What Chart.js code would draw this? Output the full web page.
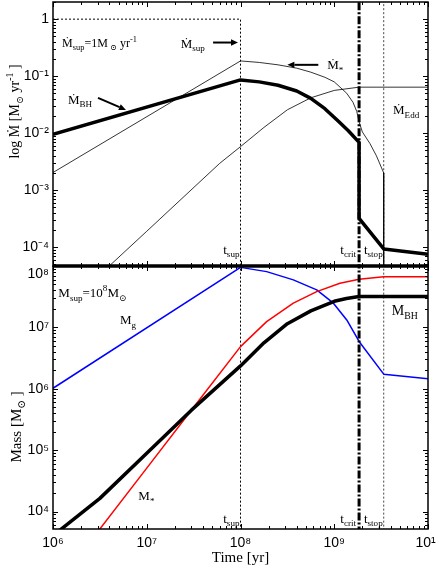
<!DOCTYPE html>
<html><head><meta charset="utf-8">
<script src="https://cdn.jsdelivr.net/npm/chart.js@4/dist/chart.umd.min.js"></script>
<style>
html,body{margin:0;padding:0;background:#fff;}
#wrap{position:relative;width:436px;height:572px;overflow:hidden;background:#fff;}
#c1{position:absolute;left:0;top:0;}
#c2{position:absolute;left:0;top:256px;}
</style></head><body>
<div id="wrap"><canvas id="c1" width="436" height="268"></canvas><canvas id="c2" width="436" height="316"></canvas></div>
<script>
// ---- characteristic times / rates ----
const T_SUP = 1e8, T_CRIT = 1.84e9, T_STOP = 3.37e9, MDOT_SUP = 1;

// ---- axis ticks ----
const xTickVals = [1e6, 1e7, 1e8, 1e9, 1e10];
const xTickLabels = ['10⁶', '10⁷', '10⁸', '10⁹', '10¹⁰'];
const yTopTickVals = [1e-4, 1e-3, 1e-2, 1e-1, 1];
const yTopTickLabels = ['10⁻⁴', '10⁻³', '10⁻²', '10⁻¹', '1'];
const yBotTickVals = [1e4, 1e5, 1e6, 1e7, 1e8];
const yBotTickLabels = ['10⁴', '10⁵', '10⁶', '10⁷', '10⁸'];

// ---- top panel: accretion / star-formation rates [Msun/yr] ----
const tMdotBH = [1e6, 1e8, 1.585e8, 2.512e8, 3.981e8, 5.623e8, 7.943e8, 1.122e9, 1.413e9, 1.84e9, 1.84e9, 3.37e9, 1e10];
const mdotBH  = [0.0095, 0.086, 0.0794, 0.0692, 0.055, 0.0407, 0.0269, 0.0158, 0.011, 0.0069, 3.2e-4, 9.3e-5, 7.5e-5];

const tMdotStar = [1e6, 1e8, 1.585e8, 2.512e8, 3.981e8, 5.623e8, 7.943e8, 1e9, 1.358e9, 1.585e9, 1.738e9, 1.84e9, 1.995e9, 2.399e9, 2.818e9, 3.37e9, 3.37e9];
const mdotStar  = [0.00204, 0.185, 0.174, 0.158, 0.138, 0.1175, 0.0955, 0.0794, 0.0501, 0.0347, 0.024, 0.0158, 0.0105, 0.0066, 0.004, 0.002, 1e-7];

const tMdotEdd = [4e6, 1e7, 3.7e7, 6e7, 1e8, 1.778e8, 3.162e8, 5.623e8, 1e9, 1.84e9, 1e10];
const mdotEdd  = [4.7e-5, 1.9e-4, 1.41e-3, 2.95e-3, 5.8e-3, 0.0126, 0.0257, 0.0417, 0.0562, 0.0641, 0.0641];

// ---- bottom panel: masses [Msun] ----
const tMgas = [1e6, 1e8, 1.9e8, 3.66e8, 6.5e8, 9.8e8, 1.36e9, 1.84e9, 3.37e9, 1e10];
const mGas  = [1.02e6, 9.5e7, 8.1e7, 5.94e7, 4.08e7, 2.48e7, 1.32e7, 5.9e6, 1.73e6, 1.45e6];

const tMstar = [2.512e6, 1e7, 3.162e7, 1e8, 1.9e8, 3.66e8, 6.5e8, 1.15e9, 1.84e9, 3.37e9, 1e10];
const mStar  = [3.3e3, 5.1e4, 5.0e5, 4.86e6, 1.24e7, 2.48e7, 3.83e7, 5.25e7, 6.1e7, 6.71e7, 6.71e7];

const tMbh = [1e6, 3.162e6, 1e7, 3.013e7, 1e8, 1.778e8, 3.162e8, 5.623e8, 1e9, 1.349e9, 1.84e9, 1e10];
const mBH  = [4.05e3, 1.64e4, 8.9e4, 4.53e5, 2.36e6, 5.6e6, 1.15e7, 1.86e7, 2.66e7, 2.95e7, 3.18e7, 3.18e7];

// ---------------------------------------------------------------
const SANS = '"Liberation Sans", Arial, sans-serif';
const SERIF = '"Liberation Serif", "DejaVu Serif", serif';
const pts = (ts, vs) => ts.map((t, i) => ({x: t, y: vs[i]}));

function rich(ctx, x, y, segs, size, align) {
  const parts = segs.map(([t, m]) => {
    const fs = m ? size * 0.7 : size;
    ctx.font = fs + 'px ' + SERIF;
    return {t, m, fs, w: ctx.measureText(t).width};
  });
  const w = parts.reduce((s, p) => s + p.w, 0);
  let cx = align === 'right' ? x - w : align === 'center' ? x - w / 2 : x;
  ctx.textAlign = 'left'; ctx.textBaseline = 'alphabetic';
  for (const p of parts) {
    ctx.font = p.fs + 'px ' + SERIF;
    const dy = p.m === 1 ? size * 0.28 : p.m === 2 ? -size * 0.42 : 0;
    ctx.fillText(p.t, cx, y + dy);
    cx += p.w;
  }
}
function arrow(ctx, x1, y1, x2, y2) {
  const a = Math.atan2(y2 - y1, x2 - x1), L = 7, W = 3.2;
  const bx = x2 - L * Math.cos(a), by = y2 - L * Math.sin(a);
  ctx.beginPath(); ctx.moveTo(x1, y1); ctx.lineTo(bx, by);
  ctx.lineWidth = 2; ctx.strokeStyle = '#000'; ctx.stroke();
  ctx.beginPath(); ctx.moveTo(x2, y2);
  ctx.lineTo(bx + W * Math.sin(a), by - W * Math.cos(a));
  ctx.lineTo(bx - W * Math.sin(a), by + W * Math.cos(a));
  ctx.closePath(); ctx.fillStyle = '#000'; ctx.fill();
}
function logTicks(min, max) {
  const out = [];
  for (let d = Math.floor(Math.log10(min)); d <= Math.ceil(Math.log10(max)); d++)
    for (let k = 1; k <= 9; k++) {
      const v = k * Math.pow(10, d);
      if (v >= min * 0.999 && v <= max * 1.001) out.push([v, k === 1]);
    }
  return out;
}
function frame(chart, thickTop, thickBottom) {
  const {ctx, chartArea: a, scales: {x, y}} = chart;
  ctx.save();
  ctx.strokeStyle = '#000'; ctx.lineWidth = 1;
  ctx.beginPath();
  for (const [v, major] of logTicks(x.min, x.max)) {
    const px = Math.round(x.getPixelForValue(v)) + 0.5, L = major ? 5 : 3;
    ctx.moveTo(px, a.top); ctx.lineTo(px, a.top + L);
    ctx.moveTo(px, a.bottom); ctx.lineTo(px, a.bottom - L);
  }
  for (const [v, major] of logTicks(y.min, y.max)) {
    const py = Math.round(y.getPixelForValue(v)) + 0.5, L = major ? 5 : 3;
    ctx.moveTo(a.left, py); ctx.lineTo(a.left + L, py);
    ctx.moveTo(a.right, py); ctx.lineTo(a.right - L, py);
  }
  ctx.stroke();
  ctx.lineWidth = 1.5;
  ctx.strokeRect(a.left, a.top, a.right - a.left, a.bottom - a.top);
  ctx.lineWidth = 3;
  if (thickTop) { ctx.beginPath(); ctx.moveTo(a.left, a.top); ctx.lineTo(a.right, a.top); ctx.stroke(); }
  if (thickBottom) { ctx.beginPath(); ctx.moveTo(a.left, a.bottom); ctx.lineTo(a.right, a.bottom); ctx.stroke(); }
  ctx.restore();
}

const line = (data, color, width, dash) => ({
  data, borderColor: color, borderWidth: width, borderDash: dash || [],
  pointRadius: 0, tension: 0, fill: false, borderJoinStyle: 'round'
});

function xScale(show) {
  return {
    type: 'logarithmic', min: 1e6, max: 1e10, display: show,
    grid: {display: false, drawTicks: false}, border: {display: false},
    afterBuildTicks: s => { s.ticks = xTickVals.map(v => ({value: v})); },
    ticks: {callback: (v, i) => xTickLabels[i], font: {family: SANS, size: 14}, color: '#000',
            padding: 6, labelOffset: 0, maxRotation: 0, autoSkip: false},
    title: {display: show, text: 'Time [yr]', font: {family: SERIF, size: 15}, color: '#000',
            padding: {top: 0, bottom: 5}},
    afterFit: s => { s.paddingLeft = 0; s.paddingRight = 0; if (show) s.height = 43; }
  };
}
function yScale(min, max, vals, labels, dropTop) {
  return {
    type: 'logarithmic', min, max,
    grid: {display: false, drawTicks: false}, border: {display: false},
    afterBuildTicks: s => { s.ticks = vals.map(v => ({value: v})); },
    ticks: {
      callback: (v, i) => (dropTop && i === labels.length - 1) ? ['', labels[i]] : labels[i],
      font: {family: SANS, size: 14, lineHeight: 1.1}, color: '#000', padding: 4, autoSkip: false
    },
    afterFit: s => { s.width = 53; s.paddingTop = 0; s.paddingBottom = 0; }
  };
}
const baseOpts = {
  responsive: false, animation: false, events: [],
  plugins: {legend: {display: false}, tooltip: {enabled: false}}
};

// ---------------- top chart ----------------
const topDecor = {
  id: 'topDecor',
  afterDatasetsDraw(chart) {
    const {ctx, scales: {x, y}} = chart;
    const X = v => x.getPixelForValue(v), Y = v => y.getPixelForValue(v);
    ctx.save(); ctx.fillStyle = '#000';
    rich(ctx, X(1.25e6), Y(0.327), [['Ṁ'], ['sup', 1], ['=1M'], [' ⊙', 1], [' yr'], ['-1', 2]], 12, 'left');
    rich(ctx, X(2.3e7), Y(0.314), [['Ṁ'], ['sup', 1]], 13, 'left');
    arrow(ctx, X(5.1e7), Y(0.389), X(9.4e7), Y(0.389));
    rich(ctx, X(8.4e8), Y(0.134), [['Ṁ'], ['*', 1]], 13, 'left');
    arrow(ctx, X(6.76e8), Y(0.158), X(3.16e8), Y(0.158));
    rich(ctx, X(1.445e6), Y(0.0327), [['Ṁ'], ['BH', 1]], 13, 'left');
    arrow(ctx, X(3.02e6), Y(0.0417), X(6.0e6), Y(0.0256));
    rich(ctx, X(4.24e9), Y(0.0218), [['Ṁ'], ['Edd', 1]], 13, 'left');
    rich(ctx, X(T_SUP) - 1, Y(7.66e-5), [['t'], ['sup', 1]], 13, 'right');
    rich(ctx, X(T_CRIT) - 3, Y(7.66e-5), [['t'], ['crit', 1]], 13, 'right');
    rich(ctx, X(T_STOP) - 1, Y(7.66e-5), [['t'], ['stop', 1]], 13, 'right');
    // y title
    ctx.translate(19, Y(0.024)); ctx.rotate(-Math.PI / 2);
    rich(ctx, 0, 0, [['log Ṁ [M'], ['⊙', 1], [' yr'], ['-1', 2], [' ]']], 14, 'center');
    ctx.restore();
  },
  afterDraw(chart) { frame(chart, false, true); }
};
new Chart(document.getElementById('c1'), {
  type: 'line',
  data: {datasets: [
    line([{x: T_CRIT, y: 1e3}, {x: T_CRIT, y: 1e-7}], '#000', 3, [8, 2, 2, 2]),
    line(pts(tMdotBH, mdotBH), '#000', 3.5),
    line(pts(tMdotStar, mdotStar), '#000', 0.8),
    line(pts(tMdotEdd, mdotEdd), '#000', 0.8),
    line([{x: 1e6, y: MDOT_SUP}, {x: T_SUP, y: MDOT_SUP}, {x: T_SUP, y: 1e-7}], '#000', 1, [2, 2]),
    line([{x: T_STOP, y: 1e3}, {x: T_STOP, y: 1e-7}], '#444', 1, [2, 2])
  ]},
  options: Object.assign({}, baseOpts, {
    layout: {padding: {left: 0, right: 8, top: 2, bottom: 2}},
    scales: {x: xScale(false), y: yScale(4.67e-5, 2.0, yTopTickVals, yTopTickLabels, false)}
  }),
  plugins: [topDecor]
});

// ---------------- bottom chart ----------------
const botDecor = {
  id: 'botDecor',
  afterDatasetsDraw(chart) {
    const {ctx, scales: {x, y}} = chart;
    const X = v => x.getPixelForValue(v), Y = v => y.getPixelForValue(v);
    ctx.save(); ctx.fillStyle = '#000';
    rich(ctx, X(1.14e6), Y(3.14e7), [['M'], ['sup', 1], ['=10'], ['8', 2], ['M'], ['⊙', 1]], 13, 'left');
    rich(ctx, X(5.19e6), Y(1.14e7), [['M'], ['g', 1]], 13, 'left');
    rich(ctx, X(4.1e9), Y(1.6e7), [['M'], ['BH', 1]], 14, 'left');
    rich(ctx, X(8.13e6), Y(1.55e4), [['M'], ['*', 1]], 13, 'left');
    rich(ctx, X(T_SUP) - 1, Y(6.55e3), [['t'], ['sup', 1]], 13, 'right');
    rich(ctx, X(T_CRIT) - 3, Y(6.55e3), [['t'], ['crit', 1]], 13, 'right');
    rich(ctx, X(T_STOP) - 1, Y(6.55e3), [['t'], ['stop', 1]], 13, 'right');
    ctx.translate(21, Y(2.4e5)); ctx.rotate(-Math.PI / 2);
    rich(ctx, 0, 0, [['Mass [M'], ['⊙', 1], [' ]']], 15, 'center');
    ctx.restore();
  },
  afterDraw(chart) { frame(chart, true, false); }
};
new Chart(document.getElementById('c2'), {
  type: 'line',
  data: {datasets: [
    line([{x: T_CRIT, y: 1e9}, {x: T_CRIT, y: 1e3}], '#000', 3, [8, 2, 2, 2]),
    line(pts(tMbh, mBH), '#000', 3.5),
    line(pts(tMstar, mStar), '#ff0000', 1.5),
    line(pts(tMgas, mGas), '#0000ff', 1.5),
    line([{x: T_SUP, y: 1e9}, {x: T_SUP, y: 1e3}], '#000', 1, [2, 2]),
    line([{x: T_STOP, y: 1e9}, {x: T_STOP, y: 1e3}], '#444', 1, [2, 2])
  ]},
  options: Object.assign({}, baseOpts, {
    layout: {padding: {left: 0, right: 8, top: 10, bottom: 0}},
    scales: {x: xScale(true), y: yScale(5.2e3, 1.0e8, yBotTickVals, yBotTickLabels, true)}
  }),
  plugins: [botDecor]
});
</script>
</body></html>
